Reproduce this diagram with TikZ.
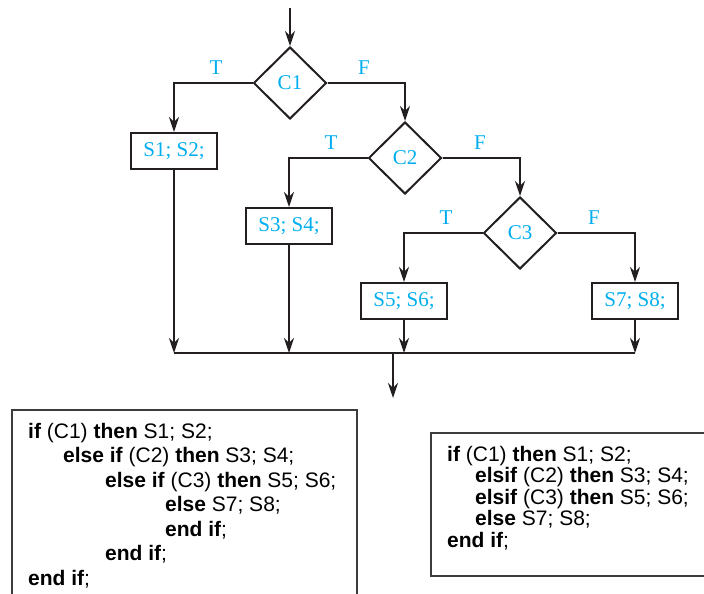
\documentclass[tikz,border=0pt]{standalone}
\usepackage{fontspec}
\setmainfont{Liberation Serif}
\newfontfamily\codefont{Liberation Sans}
\usetikzlibrary{shapes.geometric,arrows.meta}
\definecolor{cy}{RGB}{0,174,239}
\definecolor{ink}{RGB}{35,31,32}
\definecolor{boxline}{RGB}{60,60,60}
\tikzset{
  conn/.style={draw=ink,line width=1.3pt},
  arr/.style={conn,-{Stealth[length=15pt,width=10pt,inset=5pt]}},
  cond/.style={diamond,draw=ink,line width=2pt,minimum width=73pt,minimum height=72pt,inner sep=0pt,text=cy,font=\fontsize{21}{24}\selectfont},
  stmt/.style={rectangle,draw=ink,line width=2pt,minimum width=86pt,minimum height=36pt,inner sep=0pt,text=cy,font=\fontsize{21}{24}\selectfont},
  tf/.style={text=cy,font=\fontsize{21}{24}\selectfont,inner sep=0pt},
  code/.style={anchor=base west,inner sep=0pt,text=black,font=\codefont\fontsize{21}{24}\selectfont},
  codebox/.style={draw=boxline,line width=1.3pt}
}
\begin{document}
\begin{tikzpicture}[x=1pt,y=-1pt]
\useasboundingbox (0,0) rectangle (704,594);
\clip (0,0) rectangle (704,594);
% decisions
\node[cond] (c1) at (290,83) {C1};
\node[cond] (c2) at (405,158) {C2};
\node[cond] (c3) at (520,233) {C3};
% statements
\node[stmt] (s1) at (174,151) {S1; S2;};
\node[stmt] (s3) at (289,226) {S3; S4;};
\node[stmt] (s5) at (404,301) {S5; S6;};
\node[stmt] (s7) at (635,301) {S7; S8;};
% T/F labels
\node[tf] (t1) at (216,68) {T};
\node[tf] (f1) at (364,68) {F};
\node[tf] (t2) at (331,143) {T};
\node[tf] (f2) at (480,143) {F};
\node[tf] (t3) at (446,218) {T};
\node[tf] (f3) at (594,218) {F};
% coordinates
\coordinate (top) at (290,8);
\coordinate (m1) at (174,353);
\coordinate (m7) at (635,353);
\coordinate (mo) at (393,353);
\coordinate (out) at (393,398);
% connectors
\draw[arr] (top) -- (c1.north);
\draw[arr] (c1.west) -| (s1.north);
\draw[arr] (c1.east) -| (c2.north);
\draw[arr] (c2.west) -| (s3.north);
\draw[arr] (c2.east) -| (c3.north);
\draw[arr] (c3.west) -| (s5.north);
\draw[arr] (c3.east) -| (s7.north);
\draw[arr] (s1.south) -- (s1.south |- m1);
\draw[arr] (s3.south) -- (s3.south |- m1);
\draw[arr] (s5.south) -- (s5.south |- m1);
\draw[arr] (s7.south) -- (s7.south |- m1);
\draw[conn] (m1) -- (m7);
\draw[arr] (mo) -- (out);
% code boxes
\draw[codebox] (12,640) -- (12,410) -- (357,410) -- (357,640);
\draw[codebox] (760,433) -- (431,433) -- (431,576) -- (760,576);
% left code
\node[code] (l1) at (28,438) {\textbf{if} (C1) \textbf{then} S1; S2;};
\node[code] (l2) at (63,462.5) {\textbf{else if} (C2) \textbf{then} S3; S4;};
\node[code] (l3) at (105,487) {\textbf{else if} (C3) \textbf{then} S5; S6;};
\node[code] (l4) at (165,511.5) {\textbf{else} S7; S8;};
\node[code] (l5) at (165,536) {\textbf{end if};};
\node[code] (l6) at (105,560.5) {\textbf{end if};};
\node[code] (l7) at (28,585) {\textbf{end if};};
% right code
\node[code] (r1) at (447,461) {\textbf{if} (C1) \textbf{then} S1; S2;};
\node[code] (r2) at (475,482.5) {\textbf{elsif} (C2) \textbf{then} S3; S4;};
\node[code] (r3) at (475,504) {\textbf{elsif} (C3) \textbf{then} S5; S6;};
\node[code] (r4) at (475,525.5) {\textbf{else} S7; S8;};
\node[code] (r5) at (447,547) {\textbf{end if};};
\end{tikzpicture}
\end{document}
